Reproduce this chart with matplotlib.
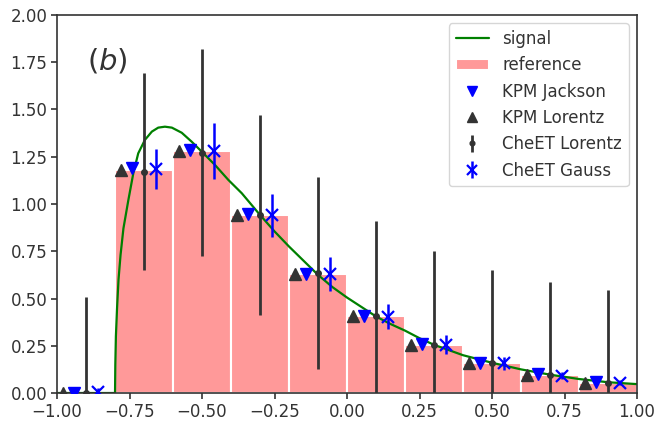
import matplotlib
matplotlib.use("Agg")
import matplotlib.pyplot as plt
import numpy as np
import seaborn as sns

sns.set_style("ticks")
plt.rcParams['font.family'] = ['DejaVu Sans']

# histogram of the reference spectrum
bin_edges = [-1.0, -0.8, -0.6, -0.4, -0.2, 0.0, 0.2, 0.4, 0.6, 0.8, 1.0]
ref_heights = [0.0, 1.18, 1.28, 0.94, 0.63, 0.41, 0.255, 0.16, 0.095, 0.055]

# signal curve
sig_x = [-1.0, -0.8, -0.799, -0.797, -0.793, -0.788, -0.781, -0.771, -0.754, -0.737,
         -0.720, -0.697, -0.673, -0.651, -0.628, -0.604, -0.570, -0.536, -0.501,
         -0.455, -0.409, -0.363, -0.329, -0.300, -0.25, -0.20, -0.15, -0.10, -0.05,
         0.0, 0.05, 0.10, 0.15, 0.20, 0.25, 0.30, 0.40, 0.50, 0.60, 0.70, 0.80,
         0.90, 1.0]
sig_y = [0.0, 0.0, 0.15, 0.30, 0.45, 0.60, 0.73, 0.871, 1.021, 1.162,
         1.268, 1.339, 1.383, 1.404, 1.409, 1.404, 1.377, 1.330, 1.277,
         1.206, 1.127, 1.057, 0.995, 0.942, 0.855, 0.775, 0.70, 0.625, 0.56,
         0.505, 0.455, 0.405, 0.365, 0.33, 0.29, 0.255, 0.20, 0.16, 0.125, 0.097, 0.074,
         0.057, 0.047]

kpm_lorentz = [0.0, 1.18, 1.28, 0.94, 0.63, 0.41, 0.255, 0.16, 0.095, 0.055]
kpm_jackson = [0.0, 1.19, 1.285, 0.945, 0.63, 0.41, 0.26, 0.16, 0.10, 0.06]
cheet_lorentz = [0.0, 1.171, 1.271, 0.942, 0.635, 0.405, 0.255, 0.16, 0.095, 0.055]
cheet_lorentz_err = [0.51, 0.52, 0.547, 0.529, 0.509, 0.507, 0.498, 0.49, 0.49, 0.49]
cheet_gauss = [0.005, 1.185, 1.28, 0.94, 0.63, 0.404, 0.256, 0.157, 0.092, 0.055]
cheet_gauss_err = [0.02, 0.105, 0.15, 0.115, 0.09, 0.067, 0.05, 0.035, 0.02, 0.015]

left = np.array(bin_edges[:-1])
width = 0.2
dark = '#333333'

fig = plt.figure(figsize=(6.57, 4.22), dpi=100)
ax = fig.add_axes([0.0868, 0.0687, 0.8828, 0.8958])

ax.bar(left, ref_heights, width=width, align='edge', color='#ff9999',
       edgecolor='white', linewidth=1.5, label='reference', zorder=1)
ax.plot(sig_x, sig_y, color='green', lw=1.6, label='signal', zorder=2)
ax.plot(left + 0.06, kpm_jackson, 'v', color='blue', ms=8, label='KPM Jackson', zorder=3)
ax.plot(left + 0.02, kpm_lorentz, '^', color=dark, ms=8, label='KPM Lorentz', zorder=3)
ax.errorbar(left + 0.10, cheet_lorentz, yerr=cheet_lorentz_err, fmt='o', color=dark,
            ms=4, elinewidth=2, capsize=0, label='CheET Lorentz', zorder=3)
ax.errorbar(left + 0.14, cheet_gauss, yerr=cheet_gauss_err, fmt='x', color='blue',
            ms=9, mew=1.6, elinewidth=1.8, capsize=0, label='CheET Gauss', zorder=3)

ax.text(0.052, 0.855, r'$(b)$', transform=ax.transAxes, fontsize=21, color=dark)

ax.set_xlim(-1.0, 1.0)
ax.set_ylim(0.0, 2.0)
ax.set_xticks(np.arange(-1.0, 1.01, 0.25))
ax.set_yticks(np.arange(0.0, 2.01, 0.25))
fmt = matplotlib.ticker.FuncFormatter(lambda v, p: ('%.2f' % v).replace('-', '\u2212'))
ax.xaxis.set_major_formatter(fmt)
ax.yaxis.set_major_formatter(fmt)
ax.tick_params(labelsize=12, colors=dark, length=4, width=1.2, pad=3)
for sp in ax.spines.values():
    sp.set_color(dark)
    sp.set_linewidth(1.2)

handles, labels = ax.get_legend_handles_labels()
order = ['signal', 'reference', 'KPM Jackson', 'KPM Lorentz', 'CheET Lorentz', 'CheET Gauss']
hmap = dict(zip(labels, handles))
leg = ax.legend([hmap[k] for k in order], order, loc='upper right', fontsize=12,
                frameon=True, labelcolor=dark, markerscale=0.85)

fig.savefig('out.png', dpi=100)
